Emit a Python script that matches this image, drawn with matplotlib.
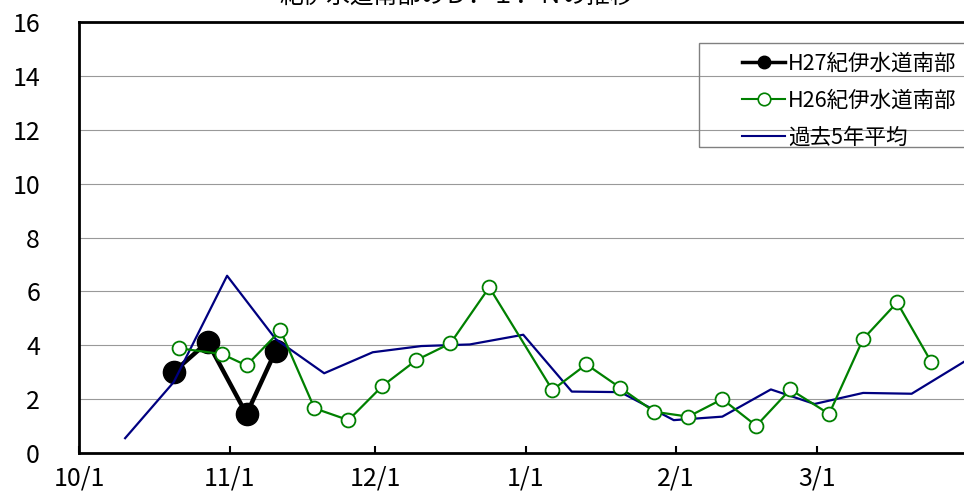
import matplotlib
matplotlib.use("Agg")
import matplotlib.dates as mdates
import matplotlib.pyplot as plt
import pandas as pd
from matplotlib.lines import Line2D
from matplotlib.patches import Rectangle

plt.rcParams["font.family"] = ["Noto Sans CJK JP", "DejaVu Sans"]

W, H = 964, 496

TITLE = "紀伊水道南部のＤ．Ｉ．Ｎの推移"
LABEL_H27 = "H27紀伊水道南部"
LABEL_H26 = "H26紀伊水道南部"
LABEL_AVG = "過去5年平均"

# H27 season (black)
h27_dates = ["10/20", "10/27", "11/4", "11/10"]
h27_values = [3.01, 4.12, 1.44, 3.79]

# H26 season (green)
h26_dates = ["10/21", "10/30", "11/4", "11/11", "11/18", "11/25", "12/2", "12/9",
             "12/16", "12/24", "1/6", "1/13", "1/20", "1/27", "2/3", "2/10",
             "2/17", "2/24", "3/3", "3/10", "3/17", "3/24"]
h26_values = [3.89, 3.67, 3.25, 4.55, 1.66, 1.22, 2.49, 3.45,
              4.07, 6.15, 2.34, 3.29, 2.42, 1.53, 1.35, 2.00,
              1.01, 2.36, 1.45, 4.23, 5.59, 3.39]

# 5-year average, per 10 days (blue)
avg_dates = ["10/10", "10/20", "10/31", "11/10", "11/20", "11/30", "12/10", "12/20",
             "12/31", "1/10", "1/20", "1/31", "2/10", "2/20", "2/29", "3/10",
             "3/20", "3/31"]
avg_values = [0.55, 2.63, 6.58, 4.23, 2.96, 3.74, 3.97, 4.03,
              4.39, 2.28, 2.26, 1.22, 1.35, 2.36, 1.82, 2.23,
              2.20, 3.41]

x_tick_labels = ["10/1", "11/1", "12/1", "1/1", "2/1", "3/1"]
y_ticks = [0, 2, 4, 6, 8, 10, 12, 14, 16]


def to_num(md):
    m, d = (int(v) for v in md.split("/"))
    year = 2015 if m >= 10 else 2016
    return mdates.date2num(pd.Timestamp(year, m, d))


def px(x, y):
    return x / W, 1 - y / H


fig = plt.figure(figsize=(W / 100, H / 100), dpi=100)
ax = fig.add_axes([79 / W, 1 - 453 / H, 888.5 / W, 431 / H])

ax.plot([to_num(d) for d in h27_dates], h27_values, color="black", lw=3.2,
        marker="o", markersize=16, zorder=3)
ax.plot([to_num(d) for d in avg_dates], avg_values, color="#000080", lw=1.6, zorder=4)
ax.plot([to_num(d) for d in h26_dates], h26_values, color="#008000", lw=1.6,
        marker="o", markersize=10, markerfacecolor="white", markeredgewidth=1.3, zorder=5)

# Excel-style date axis: points sit in the middle of their day
ax.set_xlim(to_num("10/1") - 0.5, to_num("4/1") - 0.5)
ax.set_xticks([to_num(t) - 0.5 for t in x_tick_labels], x_tick_labels)
ax.set_ylim(0, 16)
ax.set_yticks(y_ticks)

ax.tick_params(axis="x", direction="in", length=5, width=1.5, labelsize=18, pad=9)
ax.tick_params(axis="y", length=0, labelsize=18, pad=28)
ax.yaxis.grid(True, color="#999999", lw=0.8)
ax.set_axisbelow(True)

for side in ["left", "bottom", "top"]:
    ax.spines[side].set_linewidth(2)
    ax.spines[side].set_color("black")
ax.spines["right"].set_visible(False)

# title sits partly above the visible area
fig.text(*px(457, 3), TITLE, ha="center", va="baseline", fontsize=17)

# legend box
x0, y0 = px(699, 147)
fig.add_artist(Rectangle((x0, y0), 1.0, 104 / H, transform=fig.transFigure,
                         fill=False, edgecolor="#808080", lw=1))
handles = [
    Line2D([], [], color="black", lw=2.5, marker="o", markersize=9),
    Line2D([], [], color="#008000", lw=1.5, marker="o", markersize=9,
           markerfacecolor="white", markeredgewidth=1.2),
    Line2D([], [], color="#000080", lw=1.5),
]
ax.legend(handles, [LABEL_H27, LABEL_H26, LABEL_AVG], loc="upper left",
          bbox_to_anchor=px(742, 53), bbox_transform=fig.transFigure,
          frameon=False, fontsize=15.5, borderpad=0, borderaxespad=0,
          handlelength=2.0, handletextpad=0.15, labelspacing=0.68)

fig.savefig("out.png", dpi=100)
